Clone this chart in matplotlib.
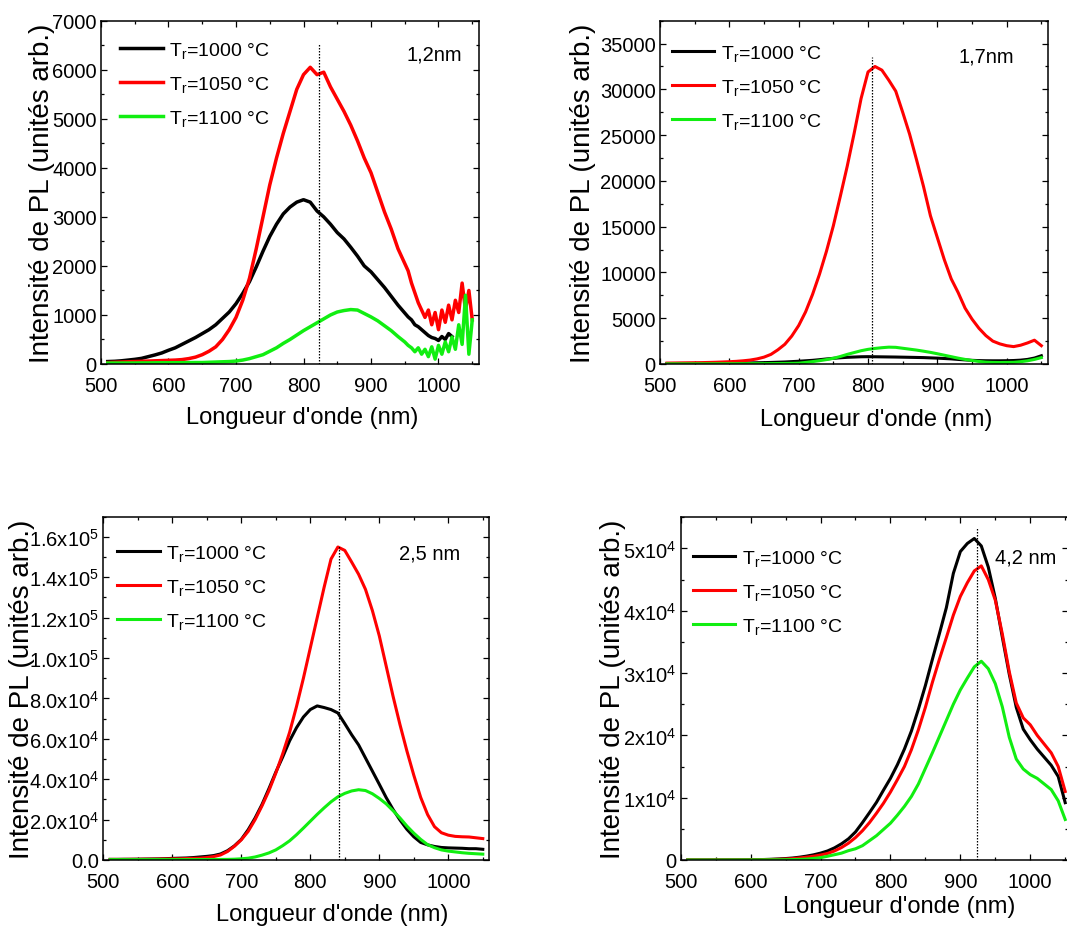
import numpy as np
import matplotlib
matplotlib.use('Agg')
import matplotlib.pyplot as plt
from matplotlib.ticker import MultipleLocator, FixedLocator, FixedFormatter

plt.rcParams['font.family'] = ['Liberation Sans', 'DejaVu Sans']
plt.rcParams['mathtext.fontset'] = 'custom'
plt.rcParams['mathtext.rm'] = 'Liberation Sans'
plt.rcParams['mathtext.it'] = 'Liberation Sans:italic'
plt.rcParams['mathtext.bf'] = 'Liberation Sans:bold'

# ---------------- data ----------------
series_labels = [r'T$_{\mathregular{r}}$=1000 °C',
                 r'T$_{\mathregular{r}}$=1050 °C',
                 r'T$_{\mathregular{r}}$=1100 °C']
series_colors = ['#000000', '#ff0000', '#11ee11']

# Panel 1 : 1,2nm
wl1 = np.concatenate([np.arange(510, 950, 10), np.arange(950, 1051, 5)])
black1 = [50, 55, 65, 80, 95, 115, 150, 185, 225, 280,
          330, 400, 470, 540, 620, 700, 800, 930, 1060, 1230,
          1440, 1680, 1980, 2300, 2600, 2850, 3060, 3200, 3300, 3350,
          3300, 3120, 3000, 2850, 2680, 2550, 2380, 2200, 2000, 1880,
          1720, 1560, 1380, 1200,
          1040, 960, 900, 800, 760, 700, 640, 580, 540, 520,
          480, 560, 500, 620, 560, np.nan, np.nan, np.nan, np.nan, np.nan, np.nan]
red1 = [30, 35, 40, 45, 50, 55, 60, 65, 70, 75,
        80, 90, 110, 140, 190, 260, 350, 500, 700, 950,
        1300, 1750, 2350, 3000, 3650, 4200, 4700, 5150, 5600, 5900,
        6050, 5900, 5950, 5650, 5400, 5150, 4870, 4550, 4200, 3900,
        3500, 3100, 2750, 2350,
        2050, 1900, 1650, 1450, 1250, 1100, 950, 1100, 800, 1050,
        700, 1100, 850, 1200, 900, 1300, 1050, 1650, 1100, 1500, 900]
green1 = [20, 20, 20, 20, 20, 22, 22, 24, 25, 25,
          26, 27, 28, 30, 30, 35, 40, 45, 50, 60,
          80, 110, 150, 190, 260, 330, 420, 500, 590, 680,
          760, 840, 920, 1000, 1060, 1090, 1110, 1100, 1030, 960,
          880, 780, 680, 560,
          450, 380, 330, 250, 330, 200, 300, 150, 350, 100,
          380, 200, 450, 250, 550, 300, 800, 400, 1400, 200, 900]

# Panel 2 : 1,7nm
wl2 = np.arange(510, 1051, 10)
black2 = [50, 50, 55, 55, 60, 65, 70, 75, 80, 85,
          95, 105, 120, 135, 150, 170, 195, 220, 260, 300,
          350, 400, 470, 550, 620, 680, 730, 760, 790, 800,
          790, 780, 770, 760, 745, 730, 715, 700, 670, 640,
          600, 560, 500, 450, 400, 370, 355, 350, 350, 360,
          380, 420, 500, 650, 900]
red2 = [100, 110, 120, 130, 140, 150, 170, 190, 220, 250,
        290, 350, 430, 560, 750, 1050, 1550, 2150, 3050, 4200,
        5700, 7600, 9800, 12300, 15100, 18300, 21600, 25200, 29000, 31900,
        32500, 32100, 31000, 29800, 27500, 25100, 22300, 19400, 16200, 13800,
        11400, 9300, 7800, 6100, 4900, 3900, 3100, 2500, 2200, 2000,
        1900, 2050, 2300, 2600, 2000]
green2 = [20, 20, 20, 20, 20, 22, 24, 26, 28, 30,
          32, 34, 36, 38, 40, 45, 52, 60, 70, 90,
          170, 260, 360, 480, 620, 820, 1050, 1250, 1450, 1600,
          1700, 1780, 1840, 1820, 1720, 1620, 1520, 1400, 1270, 1120,
          960, 800, 640, 500, 380, 280, 200, 170, 160, 170,
          180, 250, 350, 500, 700]

# Panel 3 : 2,5 nm
wl3 = np.arange(510, 1051, 10)
black3 = [300, 300, 350, 350, 400, 450, 500, 550, 650, 800,
          900, 1000, 1200, 1500, 1800, 2200, 3000, 4600, 7000, 10200,
          15000, 20800, 27500, 35300, 43500, 51000, 59000, 65500, 70800, 74500,
          76300, 75500, 74500, 72800, 67500, 62000, 57000, 50500, 44000, 37500,
          30900, 25000, 19800, 15200, 11500, 8700, 7500, 6700, 6200, 6000,
          5900, 5800, 5600, 5600, 5300]
red3 = [300, 300, 300, 350, 350, 400, 400, 450, 500, 550,
        600, 700, 800, 900, 1200, 1700, 2500, 4200, 6800, 10000,
        14200, 20000, 26800, 34300, 43000, 52600, 63200, 76000, 90000, 105000,
        120000, 135000, 149000, 155000, 153300, 147500, 141500, 134000, 123500, 111000,
        96000, 81000, 67000, 54000, 42000, 31000, 22500, 16500, 13500, 12300,
        11700, 11500, 11400, 11000, 10600]
green3 = [200, 200, 200, 200, 200, 200, 200, 200, 200, 200,
          200, 200, 200, 220, 240, 260, 280, 300, 400, 600,
          900, 1500, 2400, 3500, 5000, 7100, 9500, 12500, 15800, 19200,
          22600, 25800, 28800, 31300, 33000, 34200, 34800, 34400, 32800, 30500,
          27800, 24400, 20800, 16800, 13300, 10200, 7600, 6100, 5000, 4400,
          4000, 3600, 3300, 3100, 2900]

# Panel 4 : 4,2 nm
wl4 = np.arange(510, 1051, 10)
black4 = [0, 0, 0, 0, 5, 10, 15, 20, 30, 50,
          60, 80, 120, 170, 230, 320, 450, 620, 830, 1100,
          1450, 1950, 2600, 3400, 4500, 6000, 7600, 9250, 11200, 13100,
          15300, 17800, 20700, 24200, 28000, 32200, 36300, 40500, 46000, 49500,
          50800, 51600, 50400, 47000, 42000, 35800, 29800, 24500, 21000, 19300,
          17800, 16500, 15200, 13400, 9200]
red4 = [0, 0, 0, 0, 5, 8, 12, 16, 22, 30,
        40, 60, 80, 110, 150, 220, 320, 450, 600, 800,
        1050, 1450, 2000, 2700, 3600, 4700, 6000, 7500, 9100, 10900,
        12900, 15000, 17700, 20900, 24500, 28500, 32200, 35700, 39300, 42300,
        44500, 46400, 47200, 45000, 41700, 36300, 30200, 25200, 22800, 21700,
        20000, 18600, 17200, 15000, 11000]
green4 = [0, 0, 0, 0, 0, 5, 8, 10, 15, 20,
          25, 30, 35, 40, 50, 70, 100, 150, 250, 380,
          600, 850, 1100, 1500, 1800, 2300, 3100, 3900, 4900, 5900,
          7200, 8600, 10200, 12200, 14700, 17200, 19800, 22400, 25000, 27300,
          29200, 31000, 31900, 30700, 28300, 24600, 19700, 16200, 14600, 13700,
          13100, 12200, 11300, 9500, 6500]

panel_notes = ['1,2nm', '1,7nm', '2,5 nm', '4,2 nm']
vline_x = [823, 806, 841, 924]
vline_top = [6525, 33500, 155500, 53500]

ylims = [7000, 37500, 170000, 55000]
xmax = [1060, 1060, 1059, 1054]
y_major = [1000, 5000, 20000, 10000]
y_minor = [500, 2500, 10000, 5000]
ticks3 = [0, 20000, 40000, 60000, 80000, 100000, 120000, 140000, 160000]
ticklabels3 = ['0.0', r'2.0x10$^{\mathregular{4}}$', r'4.0x10$^{\mathregular{4}}$',
               r'6.0x10$^{\mathregular{4}}$', r'8.0x10$^{\mathregular{4}}$',
               r'1.0x10$^{\mathregular{5}}$', r'1.2x10$^{\mathregular{5}}$',
               r'1.4x10$^{\mathregular{5}}$', r'1.6x10$^{\mathregular{5}}$']
ticks4 = [0, 10000, 20000, 30000, 40000, 50000]
ticklabels4 = ['0', r'1x10$^{\mathregular{4}}$', r'2x10$^{\mathregular{4}}$',
               r'3x10$^{\mathregular{4}}$', r'4x10$^{\mathregular{4}}$',
               r'5x10$^{\mathregular{4}}$']

xlabel = "Longueur d'onde (nm)"
ylabel = "Intensité de PL (unités arb.)"

# ---------------- layout ----------------
W, H = 1067, 928
fig = plt.figure(figsize=(W / 100, H / 100), dpi=100)


def px_axes(left, top, right, bottom):
    return [left / W, 1 - bottom / H, (right - left) / W, (bottom - top) / H]


rects = [px_axes(101, 21.7, 479, 365),
         px_axes(660, 21.7, 1048.3, 365),
         px_axes(103.3, 517.7, 489, 861),
         px_axes(680.7, 518.3, 1068, 861)]
note_pos = [(0.881, 0.903), (0.841, 0.898), (0.845, 0.894), (0.891, 0.883)]
legend_anchor = [(0.05, 0.943), (0.03, 0.936), (0.035, 0.924), (0.031, 0.911)]
ylabel_x = [-0.156, -0.198, -0.2116, -0.175]
xlabel_pos = [(0.531, -0.155), (0.558, -0.160), (0.594, -0.157), (0.564, -0.133)]
line_w = [2.5, 2.2, 2.2, 2.2]

data = [(wl1, [black1, red1, green1]),
        (wl2, [black2, red2, green2]),
        (wl3, [black3, red3, green3]),
        (wl4, [black4, red4, green4])]

for i, (wl, ys) in enumerate(data):
    ax = fig.add_axes(rects[i])
    for y, c, lab in zip(ys, series_colors, series_labels):
        ax.plot(wl, y, color=c, lw=line_w[i], label=lab, solid_joinstyle='round')
    ax.vlines(vline_x[i], 0, vline_top[i], colors='k', linestyles=(0, (1.2, 1.2)), lw=0.9)
    ax.set_xlim(500, xmax[i])
    ax.set_ylim(0, ylims[i])
    ax.xaxis.set_major_locator(MultipleLocator(100))
    ax.xaxis.set_minor_locator(MultipleLocator(50))
    if i == 2:
        ax.yaxis.set_major_locator(FixedLocator(ticks3))
        ax.yaxis.set_major_formatter(FixedFormatter(ticklabels3))
    elif i == 3:
        ax.yaxis.set_major_locator(FixedLocator(ticks4))
        ax.yaxis.set_major_formatter(FixedFormatter(ticklabels4))
    else:
        ax.yaxis.set_major_locator(MultipleLocator(y_major[i]))
    ax.yaxis.set_minor_locator(MultipleLocator(y_minor[i]))
    ax.tick_params(which='both', direction='in', top=True, right=True, width=0.9)
    ax.tick_params(which='major', length=4.3)
    ax.tick_params(which='minor', length=2.3)
    ax.tick_params(axis='x', which='major', labelsize=14.5, pad=8.5)
    ax.tick_params(axis='y', which='major', labelsize=14.5, pad=3)
    for sp in ax.spines.values():
        sp.set_linewidth(1.1)
    ax.set_xlabel(xlabel, fontsize=17)
    ax.set_ylabel(ylabel, fontsize=20)
    ax.xaxis.set_label_coords(*xlabel_pos[i])
    ax.xaxis.label.set_va('center')
    ax.yaxis.set_label_coords(ylabel_x[i], 0.5)
    ax.yaxis.label.set_va('center')
    ax.text(note_pos[i][0], note_pos[i][1], panel_notes[i], transform=ax.transAxes,
            ha='center', va='center', fontsize=14.5)
    ax.legend(loc='upper left', bbox_to_anchor=legend_anchor[i], frameon=False,
              fontsize=14, handlelength=2.2, handletextpad=0.35, labelspacing=0.72,
              borderpad=0, borderaxespad=0)

fig.savefig('out.png', dpi=100)
